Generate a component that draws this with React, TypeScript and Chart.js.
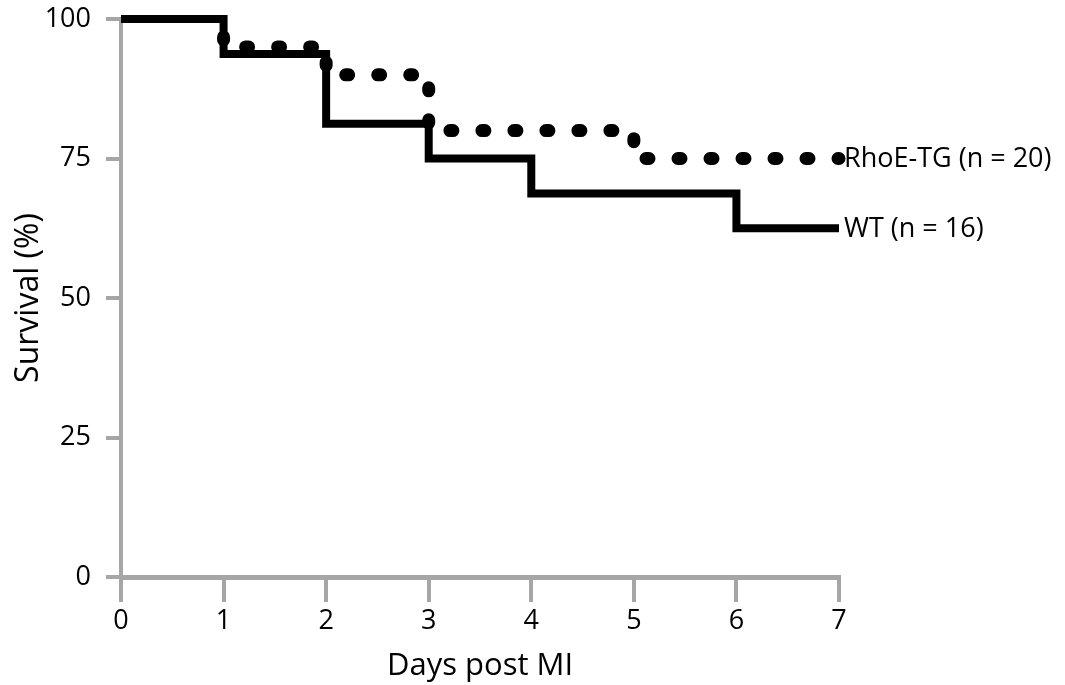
import React, { useEffect, useRef } from "react";
import { Chart, registerables } from "chart.js";

Chart.register(...registerables);

// Kaplan-Meier step data (day of event, survival % after the event)
const wtDays = [0, 1, 2, 3, 4, 6, 7];
const wtSurvival = [100, 93.75, 81.25, 75, 68.75, 62.5, 62.5];
const rhoeDays = [0, 1, 2, 3, 5, 7];
const rhoeSurvival = [100, 95, 90, 80, 75, 75];
const xTickValues = [0, 1, 2, 3, 4, 5, 6, 7];
const yTickValues = [0, 25, 50, 75, 100];
const seriesLabels = ["RhoE-TG (n = 20)", "WT (n = 16)"];
const xTitle = "Days post MI";
const yTitle = "Survival (%)";

const FONT = "'Open Sans', sans-serif";
const AXIS_GREY = "#a6a6a6";

const endLabels = {
  id: "endLabels",
  afterDatasetsDraw(chart: any) {
    const ctx = chart.ctx;
    chart.data.datasets.forEach((ds: any, i: number) => {
      const meta = chart.getDatasetMeta(i);
      const pt = meta.data[meta.data.length - 1];
      if (!pt) return;
      ctx.save();
      ctx.font = `27px ${FONT}`;
      ctx.fillStyle = "#000";
      ctx.textBaseline = "middle";
      ctx.textAlign = "left";
      ctx.fillText(ds.label, pt.x + 5, pt.y + 1);
      ctx.restore();
    });
  },
};

export default function App() {
  const canvasRef = useRef<HTMLCanvasElement | null>(null);

  useEffect(() => {
    if (!canvasRef.current) return;
    const chart = new Chart(canvasRef.current, {
      type: "line",
      data: {
        datasets: [
          {
            label: seriesLabels[0],
            data: rhoeDays.map((d, i) => ({ x: d, y: rhoeSurvival[i] })),
            borderColor: "#000",
            borderWidth: 13,
            borderDash: [3, 29],
            borderDashOffset: 7.5,
            borderCapStyle: "round",
            borderJoinStyle: "round",
            stepped: "before",
            pointRadius: 0,
            fill: false,
            clip: { left: 20, right: 20, bottom: 20, top: -9 } as any,
          },
          {
            label: seriesLabels[1],
            data: wtDays.map((d, i) => ({ x: d, y: wtSurvival[i] })),
            borderColor: "#000",
            borderWidth: 8,
            borderCapStyle: "butt",
            borderJoinStyle: "miter",
            stepped: "before",
            pointRadius: 0,
            fill: false,
            clip: false as any,
          },
        ],
      },
      options: {
        animation: false,
        responsive: false,
        events: [],
        layout: { padding: { top: 19, right: 226, left: 0, bottom: 0 } },
        plugins: {
          legend: { display: false },
          tooltip: { enabled: false },
        },
        scales: {
          x: {
            type: "linear",
            min: 0,
            max: 7,
            afterFit: (scale: any) => {
              scale.height = 108;
              scale.paddingLeft = 0;
              scale.paddingRight = 0;
            },
            afterBuildTicks: (scale: any) => {
              scale.ticks = xTickValues.map((v) => ({ value: v }));
            },
            ticks: {
              color: "#000",
              padding: 3,
              font: { family: FONT, size: 27 },
              maxRotation: 0,
            },
            grid: {
              display: true,
              drawOnChartArea: false,
              drawTicks: true,
              tickLength: 25,
              tickWidth: 4,
              tickColor: AXIS_GREY,
              color: AXIS_GREY,
              lineWidth: 4,
            },
            border: { display: true, color: AXIS_GREY, width: 5 },
            title: {
              display: true,
              text: xTitle,
              color: "#000",
              font: { family: FONT, size: 31 },
              padding: { top: 5, bottom: 0 },
            },
          },
          y: {
            type: "linear",
            min: 0,
            max: 100,
            afterFit: (scale: any) => {
              scale.width = 121;
              scale.paddingTop = 0;
              scale.paddingBottom = 0;
            },
            afterBuildTicks: (scale: any) => {
              scale.ticks = yTickValues.map((v) => ({ value: v }));
            },
            ticks: {
              color: "#000",
              padding: 15,
              font: { family: FONT, size: 27 },
            },
            grid: {
              display: true,
              drawOnChartArea: false,
              drawTicks: true,
              tickLength: 15,
              tickWidth: 4,
              tickColor: AXIS_GREY,
              color: AXIS_GREY,
              lineWidth: 4,
            },
            border: { display: true, color: AXIS_GREY, width: 4 },
            title: {
              display: true,
              text: yTitle,
              color: "#000",
              font: { family: FONT, size: 32 },
              padding: { top: 10, bottom: 0 },
            },
          },
        },
      } as any,
      plugins: [endLabels],
    });
    return () => chart.destroy();
  }, []);

  return (
    <div
      style={{
        position: "absolute",
        left: 0,
        top: 0,
        width: 1065,
        height: 685,
        background: "#fff",
      }}
    >
      <canvas ref={canvasRef} width={1065} height={685} />
    </div>
  );
}
